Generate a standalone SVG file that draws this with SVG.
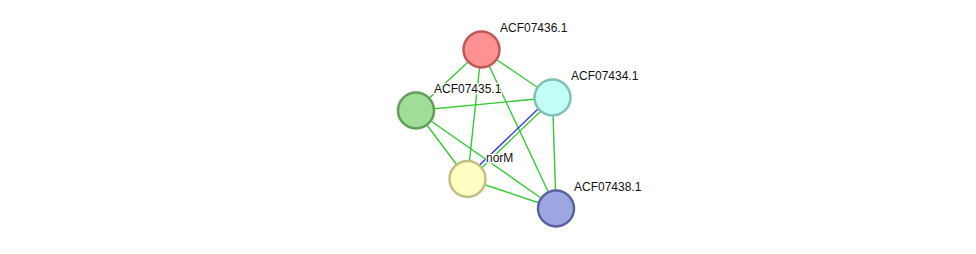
<svg xmlns="http://www.w3.org/2000/svg" width="976" height="254" viewBox="0 0 976 254">
<style>
.e{stroke:#33cc33;stroke-width:1.4;fill:none}
.b{stroke:#3333ee;stroke-width:1.4;fill:none}
.n{stroke-width:2.5}
.t{font-family:"Liberation Sans",Arial,sans-serif;font-size:12px;fill:#111;stroke:#fff;stroke-width:2.5;stroke-linejoin:round;paint-order:stroke}
</style>
<rect width="976" height="254" fill="#fff"/>
<g id="connectors">
<line class="e" x1="481.5" y1="49.5" x2="416" y2="110.5"/>
<line class="e" x1="481.5" y1="49.5" x2="467.5" y2="179"/>
<line class="e" x1="481.5" y1="49.5" x2="556" y2="208.5"/>
<line class="e" x1="481.5" y1="49.5" x2="552.5" y2="97.5"/>
<line class="e" x1="416" y1="110.5" x2="552.5" y2="97.5"/>
<line class="e" x1="416" y1="110.5" x2="467.5" y2="179"/>
<line class="e" x1="416" y1="110.5" x2="556" y2="208.5"/>
<line class="b" x1="551.3" y1="96.3" x2="466.3" y2="177.8"/>
<line class="e" x1="553.7" y1="98.7" x2="468.7" y2="180.2"/>
<line class="e" x1="552.5" y1="97.5" x2="556" y2="208.5"/>
<line class="e" x1="467.5" y1="179" x2="556" y2="208.5"/>
</g>
<g id="ACF07436.1">
<circle class="n" cx="481.5" cy="49.5" r="18" fill="#ff9191" stroke="#c05858"/>
<text class="t" x="500" y="32">ACF07436.1</text>
</g>
<g id="ACF07434.1">
<circle class="n" cx="552.5" cy="97.5" r="18" fill="#c1fff7" stroke="#7fc1b8"/>
<text class="t" x="571" y="80">ACF07434.1</text>
</g>
<g id="ACF07435.1">
<circle class="n" cx="416" cy="110.5" r="18" fill="#a0de98" stroke="#5f9f58"/>
<text class="t" x="434" y="93">ACF07435.1</text>
</g>
<g id="norM">
<circle class="n" cx="467.5" cy="179" r="18" fill="#ffffc4" stroke="#c0c080"/>
<text class="t" x="486" y="161.5">norM</text>
</g>
<g id="ACF07438.1">
<circle class="n" cx="556" cy="208.5" r="18" fill="#9ca6e0" stroke="#5a63a0"/>
<text class="t" x="574" y="191">ACF07438.1</text>
</g>
</svg>
